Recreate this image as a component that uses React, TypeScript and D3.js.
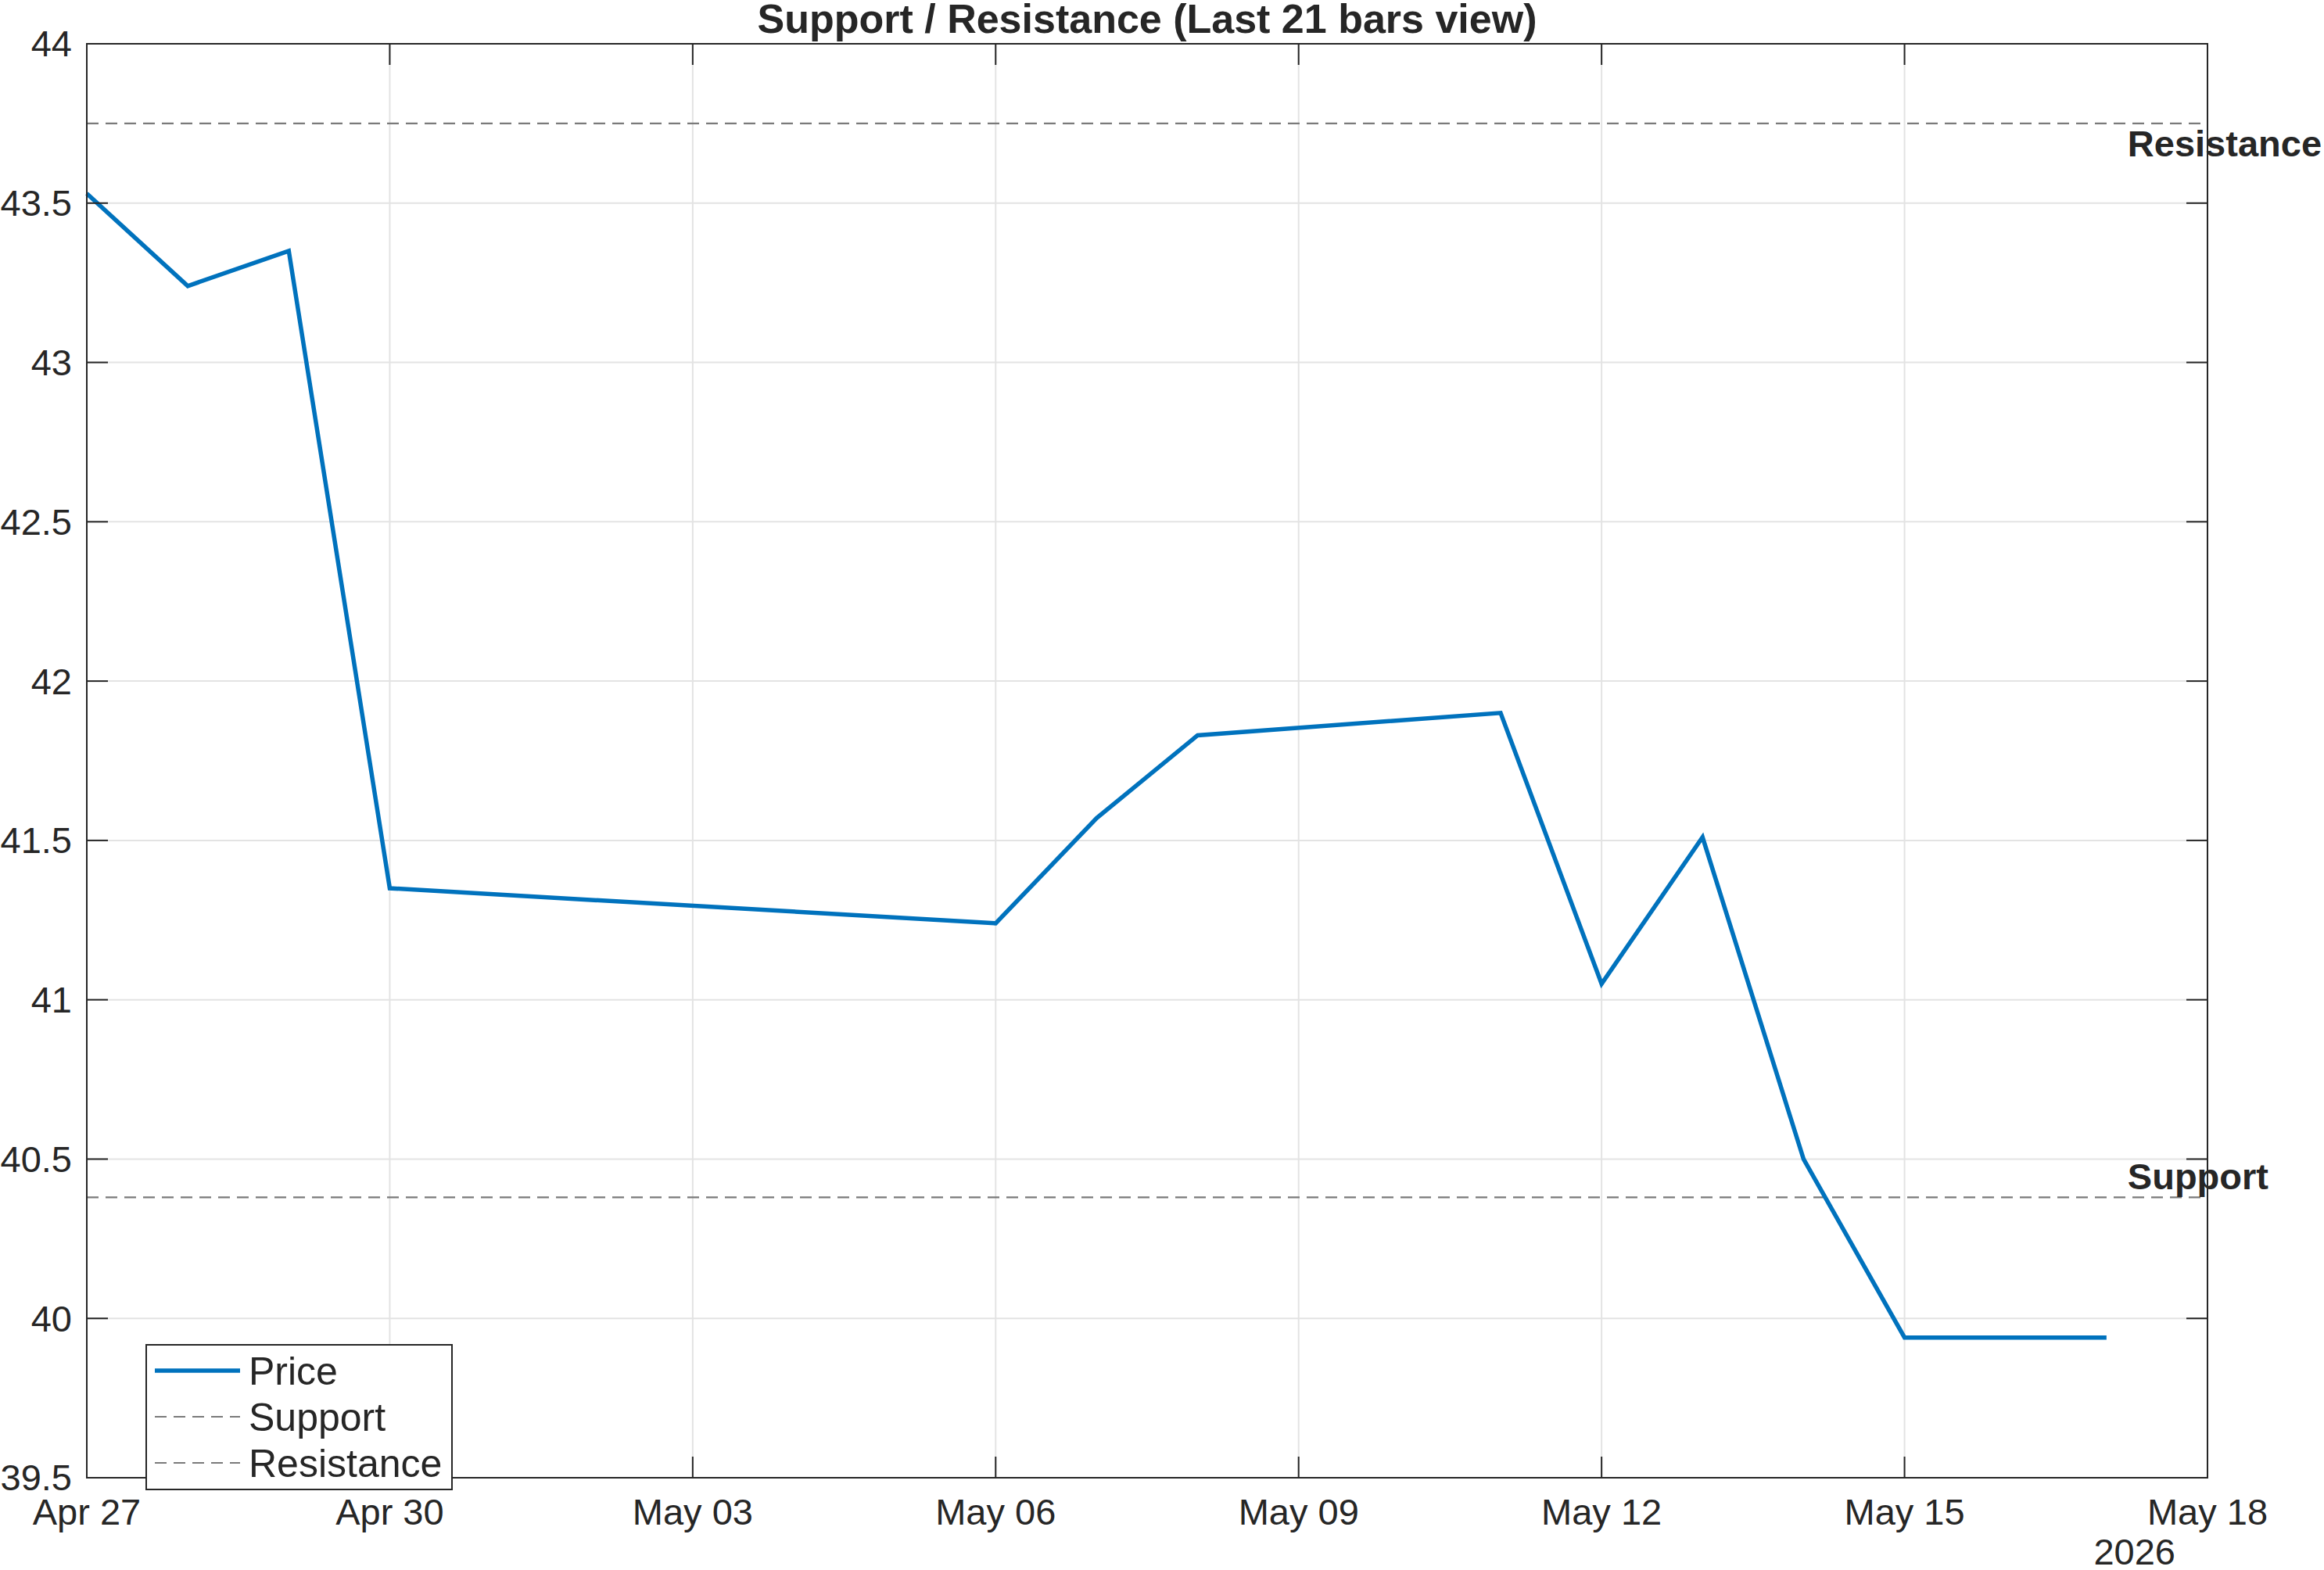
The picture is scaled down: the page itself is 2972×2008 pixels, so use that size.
import React from "react";
import * as d3 from "d3";

const dates: string[] = [
  "2026-04-27", "2026-04-28", "2026-04-29", "2026-04-30", "2026-05-06", "2026-05-07",
  "2026-05-08", "2026-05-11", "2026-05-12", "2026-05-13", "2026-05-14", "2026-05-15",
  "2026-05-16", "2026-05-17",
];
const prices: number[] = [
  43.53, 43.24, 43.35, 41.35, 41.24, 41.57, 41.83, 41.9, 41.05, 41.51, 40.5, 39.94, 39.94, 39.94,
];
const supportLevel = 40.38;
const resistanceLevel = 43.75;
const xDomain: string[] = ["2026-04-27", "2026-05-18"];
const yDomain: number[] = [39.5, 44];
const yTicks: number[] = [39.5, 40, 40.5, 41, 41.5, 42, 42.5, 43, 43.5, 44];
const titleText = "Support / Resistance (Last 21 bars view)";
const yearLabel = "2026";
const legendLabels: string[] = ["Price", "Support", "Resistance"];

const W = 2972;
const H = 2008;
const M = { left: 111, right: 2823, top: 56, bottom: 1890 };
const FONT = "'Liberation Sans', Arial, Helvetica, sans-serif";
const AX = "#262626";
const BLUE = "#0072BD";
const DASH = "#7a7a7a";

const parse = (s: string) => {
  const [y, m, d] = s.split("-").map(Number);
  return new Date(Date.UTC(y, m - 1, d));
};

export default function App() {
  const x = d3.scaleUtc().domain(xDomain.map(parse)).range([M.left, M.right]);
  const y = d3.scaleLinear().domain(yDomain).range([M.bottom, M.top]);
  const start = parse(xDomain[0]);
  const end = parse(xDomain[1]);
  const xTicks = d3.utcDay.range(start, d3.utcDay.offset(end, 1), 3);
  const fmt = d3.utcFormat("%b %d");
  const data = dates.map((d, i) => ({ d: parse(d), v: prices[i] }));
  const line = d3
    .line<{ d: Date; v: number }>()
    .x((p) => x(p.d))
    .y((p) => y(p.v));
  const tickLen = 27;
  const lastX = x(data[data.length - 1].d);

  const legend = { x: 187, y: 1720, w: 391, h: 185 };
  const rowY = [1753, 1812, 1871];

  return (
    <svg
      width={W}
      height={H}
      style={{ position: "absolute", left: 0, top: 0, background: "#fff" }}
      fontFamily={FONT}
    >
      <rect x={0} y={0} width={W} height={H} fill="#fff" />
      {/* grid */}
      {yTicks.map((t) => (
        <line key={"gy" + t} x1={M.left} x2={M.right} y1={y(t)} y2={y(t)} stroke="#e3e3e3" strokeWidth={2} />
      ))}
      {xTicks.map((t) => (
        <line key={"gx" + t.getTime()} x1={x(t)} x2={x(t)} y1={M.top} y2={M.bottom} stroke="#e3e3e3" strokeWidth={2} />
      ))}
      {/* ref lines */}
      <line x1={M.left} x2={M.right} y1={y(supportLevel)} y2={y(supportLevel)} stroke={DASH} strokeWidth={2.2} strokeDasharray="15 9" />
      <line x1={M.left} x2={M.right} y1={y(resistanceLevel)} y2={y(resistanceLevel)} stroke={DASH} strokeWidth={2.2} strokeDasharray="15 9" />
      {/* price */}
      <path d={line(data) || ""} fill="none" stroke={BLUE} strokeWidth={5.5} strokeLinejoin="miter" />
      {/* axes box */}
      <rect x={M.left} y={M.top} width={M.right - M.left} height={M.bottom - M.top} fill="none" stroke={AX} strokeWidth={2} />
      {/* ticks */}
      {yTicks.map((t) => (
        <g key={"ty" + t}>
          <line x1={M.left} x2={M.left + tickLen} y1={y(t)} y2={y(t)} stroke={AX} strokeWidth={2} />
          <line x1={M.right} x2={M.right - tickLen} y1={y(t)} y2={y(t)} stroke={AX} strokeWidth={2} />
          <text x={M.left - 19} y={y(t)} dy="0.35em" textAnchor="end" fontSize={47} fill={AX}>
            {String(t)}
          </text>
        </g>
      ))}
      {xTicks.map((t) => (
        <g key={"tx" + t.getTime()}>
          <line x1={x(t)} x2={x(t)} y1={M.bottom} y2={M.bottom - tickLen} stroke={AX} strokeWidth={2} />
          <line x1={x(t)} x2={x(t)} y1={M.top} y2={M.top + tickLen} stroke={AX} strokeWidth={2} />
          <text x={x(t)} y={M.bottom + 60} textAnchor="middle" fontSize={47} fill={AX}>
            {fmt(t)}
          </text>
        </g>
      ))}
      <text x={M.right - 41} y={2001} textAnchor="end" fontSize={47} fill={AX}>
        {yearLabel}
      </text>
      {/* title */}
      <text x={(M.left + M.right) / 2} y={42} textAnchor="middle" fontSize={52} fontWeight="bold" fill={AX}>
        {titleText}
      </text>
      {/* level labels */}
      <text x={lastX + 27} y={y(resistanceLevel) + 42} fontSize={47} fontWeight="bold" fill={AX}>
        Resistance
      </text>
      <text x={lastX + 27} y={y(supportLevel) - 10} fontSize={47} fontWeight="bold" fill={AX}>
        Support
      </text>
      {/* legend */}
      <rect x={legend.x} y={legend.y} width={legend.w} height={legend.h} fill="#fff" stroke={AX} strokeWidth={2} />
      {legendLabels.map((lab, i) => (
        <g key={lab}>
          <line
            x1={198}
            x2={307}
            y1={rowY[i]}
            y2={rowY[i]}
            stroke={i === 0 ? BLUE : DASH}
            strokeWidth={i === 0 ? 5.5 : 2.2}
            strokeDasharray={i === 0 ? undefined : "15 9"}
          />
          <text x={318} y={rowY[i]} dy="0.35em" fontSize={50} fill={AX}>
            {lab}
          </text>
        </g>
      ))}
    </svg>
  );
}
